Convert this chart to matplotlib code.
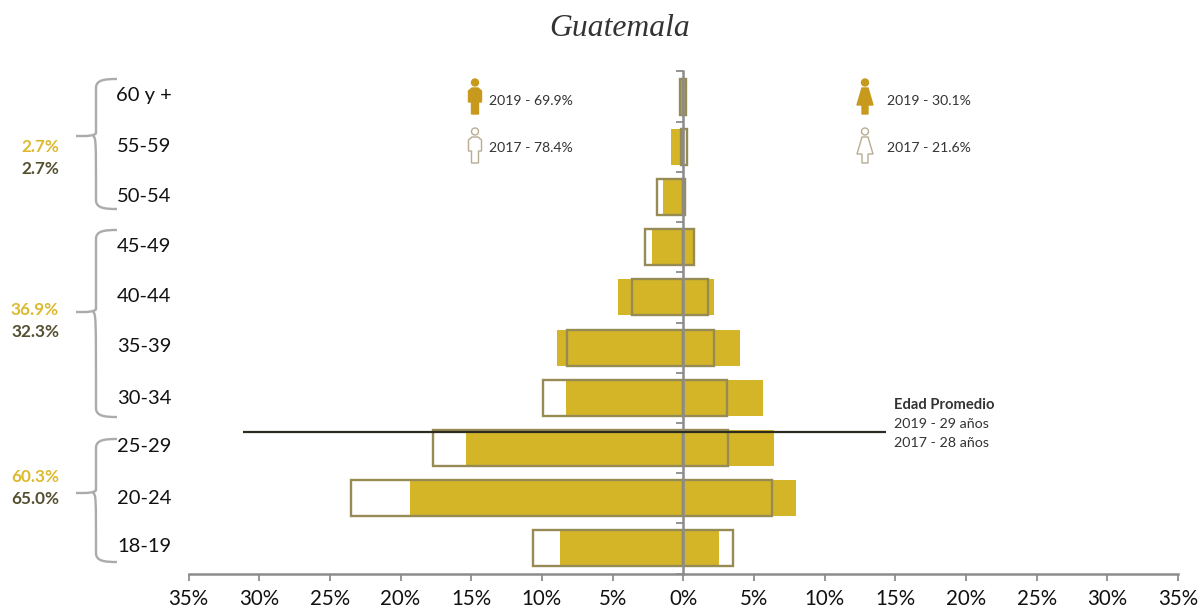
"""Guatemala age pyramid, 2019 vs 2017"""
import matplotlib
matplotlib.use('Agg')
import matplotlib.pyplot as plt
from matplotlib.patches import Circle, PathPatch, Polygon
from matplotlib.path import Path
import numpy as np

plt.rcParams['font.family'] = ['Lato', 'DejaVu Sans']

ages = ['18-19', '20-24', '25-29', '30-34', '35-39', '40-44', '45-49', '50-54', '55-59', '60 y +']
men_2019 = [8.7, 19.3, 15.4, 8.3, 8.9, 4.6, 2.2, 1.4, 0.85, 0.2]
women_2019 = [2.5, 8.0, 6.4, 5.65, 4.05, 2.2, 0.75, 0.1, 0.05, 0.15]
men_2017 = [10.6, 23.5, 17.7, 9.9, 8.2, 3.6, 2.7, 1.85, 0.15, 0.25]
women_2017 = [3.5, 6.25, 3.2, 3.1, 2.2, 1.75, 0.75, 0.1, 0.3, 0.2]
xticks = [-35, -30, -25, -20, -15, -10, -5, 0, 5, 10, 15, 20, 25, 30, 35]

GOLD = '#d4b527'
OUTLINE = '#968a55'
AXIS = '#8c8c8c'
ICON = '#c79a1e'
ICON_LINE = '#b8ad92'
TEXT = '#333333'

fig = plt.figure(figsize=(12, 6.1), dpi=100)

# main axes, placed so that the scale falls on the pixels of the reference
ax = fig.add_axes([188.5 / 1200, (610 - 573.5) / 610, (1178 - 188.5) / 1200, (573.5 - 71.5) / 610])
ax.set_xlim(-35, 35)
ax.set_ylim(-0.5, 9.5)
y = np.arange(len(ages))

ax.barh(y, np.negative(men_2019), height=0.72, color=GOLD, linewidth=0)
ax.barh(y, women_2019, height=0.72, color=GOLD, linewidth=0)
ax.barh(y, np.negative(men_2017), height=0.72, facecolor='none', edgecolor=OUTLINE, linewidth=1.7)
ax.barh(y, women_2017, height=0.72, facecolor='none', edgecolor=OUTLINE, linewidth=1.7)

for side in ['top', 'right']:
    ax.spines[side].set_visible(False)
ax.spines['left'].set_position(('data', 0))
for side in ['left', 'bottom']:
    ax.spines[side].set_color(AXIS)
    ax.spines[side].set_linewidth(1.8)
    ax.spines[side].set_zorder(5)

ax.set_xticks(xticks)
ax.set_xticklabels([f'{abs(v)}%' for v in xticks], fontsize=14.8, color='#111111')
ax.tick_params(axis='x', direction='out', length=5, width=1.3, color=AXIS, pad=6)
ax.set_yticks(np.append(y - 0.5, 9.5))
ax.set_yticklabels([])
ax.tick_params(axis='y', direction='out', length=5, width=1.3, color=AXIS)

# overlay in pixel coordinates for the annotations
ov = fig.add_axes([0, 0, 1, 1], facecolor='none')
ov.set_xlim(0, 1200)
ov.set_ylim(610, 0)
ov.axis('off')

ov.text(620, 29, 'Guatemala', fontsize=22.8, family='Liberation Serif', style='italic',
        ha='center', va='center', color='#333333')

label_y = [547, 498, 447, 398, 347, 296, 247, 196, 147, 96]
for lab, py in zip(ages, label_y):
    ov.text(144, py, lab, fontsize=14.5, ha='center', va='center', color='#111111')


def brace(top, bottom, tip):
    verts = [(117, top), (104, top), (96, top + 1), (96, top + 9),
             (96, tip - 12), (96, tip - 3), (96, tip - 2), (93, tip), (84, tip), (76, tip),
             (93, tip), (96, tip + 2), (96, tip + 3), (96, bottom - 9),
             (96, bottom - 1), (104, bottom), (117, bottom)]
    codes = [Path.MOVETO, Path.CURVE4, Path.CURVE4, Path.CURVE4,
             Path.LINETO, Path.LINETO, Path.CURVE4, Path.CURVE4, Path.CURVE4, Path.LINETO,
             Path.MOVETO, Path.CURVE4, Path.CURVE4, Path.LINETO,
             Path.CURVE4, Path.CURVE4, Path.CURVE4]
    ov.add_patch(PathPatch(Path(verts, codes), facecolor='none', edgecolor='#ababab', linewidth=1.7))


brace(79, 209, 136)
brace(230, 417, 312)
brace(439, 562, 493)

groups = [(147, 169, '2.7%', '2.7%'), (310, 332, '36.9%', '32.3%'), (477, 499, '60.3%', '65.0%')]
for y1, y2, a, b in groups:
    ov.text(59, y1, a, fontsize=12.3, fontweight='bold', ha='right', va='center', color='#dcb92e')
    ov.text(59, y2, b, fontsize=12.3, fontweight='bold', ha='right', va='center', color='#544f30')

# average age line and note
ov.plot([243, 886], [432, 432], color='#2b2b20', linewidth=1.6, solid_capstyle='butt', zorder=6)
ov.text(894, 405, 'Edad Promedio', fontsize=10.6, fontweight='bold', ha='left', va='center', color=TEXT)
ov.text(894, 424, '2019 - 29 años', fontsize=10.3, ha='left', va='center', color=TEXT)
ov.text(894, 443, '2017 - 28 años', fontsize=10.3, ha='left', va='center', color=TEXT)


def man(cx, top, fc, ec):
    ov.add_patch(Circle((cx, top + 3.5), 3.5, facecolor=fc, edgecolor=ec, linewidth=1))
    pts = [(cx - 3, top + 9), (cx + 3, top + 9), (cx + 6.5, top + 12), (cx + 6.5, top + 23),
           (cx + 3.5, top + 23), (cx + 3.5, top + 35), (cx - 3.5, top + 35), (cx - 3.5, top + 23),
           (cx - 6.5, top + 23), (cx - 6.5, top + 12)]
    ov.add_patch(Polygon(pts, closed=True, facecolor=fc, edgecolor=ec, linewidth=1))


def woman(cx, top, fc, ec):
    ov.add_patch(Circle((cx, top + 3.5), 3.5, facecolor=fc, edgecolor=ec, linewidth=1))
    pts = [(cx - 3, top + 9), (cx + 3, top + 9), (cx + 8, top + 26), (cx + 3, top + 26),
           (cx + 3, top + 35), (cx - 3, top + 35), (cx - 3, top + 26), (cx - 8, top + 26)]
    ov.add_patch(Polygon(pts, closed=True, facecolor=fc, edgecolor=ec, linewidth=1))


man(475, 79, ICON, ICON)
man(475, 128, 'white', ICON_LINE)
woman(865, 79, ICON, ICON)
woman(865, 128, 'white', ICON_LINE)

ov.text(489, 101, '2019 - 69.9%', fontsize=10.1, ha='left', va='center', color=TEXT)
ov.text(489, 148, '2017 - 78.4%', fontsize=10.1, ha='left', va='center', color=TEXT)
ov.text(887, 101, '2019 - 30.1%', fontsize=10.1, ha='left', va='center', color=TEXT)
ov.text(887, 148, '2017 - 21.6%', fontsize=10.1, ha='left', va='center', color=TEXT)

fig.savefig('out.png', dpi=100, facecolor='white')
